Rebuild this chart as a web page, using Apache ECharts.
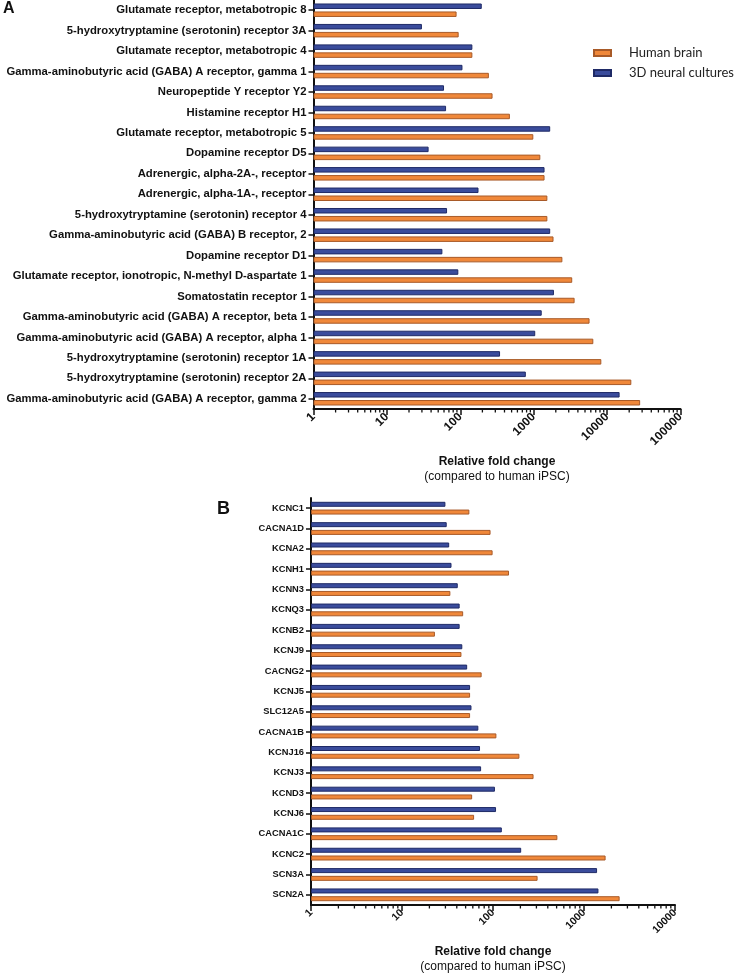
<!DOCTYPE html>
<html><head><meta charset="utf-8">
<script src="https://cdn.jsdelivr.net/npm/echarts@6/dist/echarts.min.js"></script>
<style>html,body{margin:0;padding:0;background:#fff}#c{width:735px;height:973px}</style>
</head><body><div id="c"></div>
<script>
// ---------- data (top-to-bottom order) ----------
const categoriesA = [
  'Glutamate receptor, metabotropic 8',
  '5-hydroxytryptamine (serotonin) receptor 3A',
  'Glutamate receptor, metabotropic 4',
  'Gamma-aminobutyric acid (GABA) A receptor, gamma 1',
  'Neuropeptide Y receptor Y2',
  'Histamine receptor H1',
  'Glutamate receptor, metabotropic 5',
  'Dopamine receptor D5',
  'Adrenergic, alpha-2A-, receptor',
  'Adrenergic, alpha-1A-, receptor',
  '5-hydroxytryptamine (serotonin) receptor 4',
  'Gamma-aminobutyric acid (GABA) B receptor, 2',
  'Dopamine receptor D1',
  'Glutamate receptor, ionotropic, N-methyl D-aspartate 1',
  'Somatostatin receptor 1',
  'Gamma-aminobutyric acid (GABA) A receptor, beta 1',
  'Gamma-aminobutyric acid (GABA) A receptor, alpha 1',
  '5-hydroxytryptamine (serotonin) receptor 1A',
  '5-hydroxytryptamine (serotonin) receptor 2A',
  'Gamma-aminobutyric acid (GABA) A receptor, gamma 2'
];
const humanBrainA     = [89, 95, 146, 245, 275, 474, 988, 1231, 1405, 1535, 1535, 1862, 2459, 3349, 3607, 5766, 6490, 8340, 21380, 28200];
const neuralCulturesA = [196, 30, 146, 107, 60, 64, 1678, 37, 1405, 177, 66, 1678, 57, 94, 1888, 1286, 1049, 348, 781, 14800];

const categoriesB = ['KCNC1','CACNA1D','KCNA2','KCNH1','KCNN3','KCNQ3','KCNB2','KCNJ9','CACNG2','KCNJ5',
  'SLC12A5','CACNA1B','KCNJ16','KCNJ3','KCND3','KCNJ6','CACNA1C','KCNC2','SCN3A','SCN2A'];
const humanBrainB     = [55, 94, 99, 150, 34, 47, 23, 45, 75, 56, 56, 109, 195, 279, 59, 62, 510, 1727, 309, 2464];
const neuralCulturesB = [30, 31, 33, 35, 41, 43, 43, 46, 52, 56, 58, 69, 72, 74, 105, 108, 125, 204, 1392, 1441];

const tickLabelsA = ['1', '10', '100', '1000', '10000', '100000'];
const tickLabelsB = ['1', '10', '100', '1000', '10000'];
const minorMultipliers = [2, 3, 4, 5, 6, 7, 8, 9];
const seriesNames = ['Human brain', '3D neural cultures'];

// ---------- styling ----------
const ORANGE = '#F0883A', ORANGE_B = '#A85A28';
const BLUE = '#3A4C9C', BLUE_B = '#1F2A66';
const FONT = '"Liberation Sans", Arial, sans-serif';

function minorTicks(decades) {
  const out = [];
  for (let d = 0; d < decades; d++) for (const m of minorMultipliers) out.push(m * Math.pow(10, d));
  return out;
}

function makeXAxis(gridIndex, labels, labelSize, nameGap) {
  return {
    type: 'log', logBase: 10, gridIndex,
    min: Number(labels[0]), max: Number(labels[labels.length - 1]),
    axisLine: { show: true, lineStyle: { color: '#111', width: 2 } },
    axisTick: { show: true, length: 6, lineStyle: { color: '#111', width: 1.5 } },
    splitLine: { show: false },
    axisLabel: {
      rotate: 45, margin: 6, color: '#111', fontFamily: FONT, fontWeight: 'bold', fontSize: labelSize,
      formatter: v => { const s = String(Math.round(v)); return labels.indexOf(s) >= 0 ? s : ''; }
    },
    name: '{t|Relative fold change}\n{s|(compared to human iPSC)}',
    nameLocation: 'middle', nameGap,
    nameTextStyle: {
      rich: {
        t: { fontFamily: FONT, fontWeight: 'bold', fontSize: 12, color: '#111', lineHeight: 15, align: 'center' },
        s: { fontFamily: FONT, fontSize: 12, color: '#111', lineHeight: 15, align: 'center' }
      }
    }
  };
}

function makeYAxis(gridIndex, cats, fontSize) {
  return {
    type: 'category', gridIndex, data: cats, inverse: true,
    axisLine: { show: true, lineStyle: { color: '#111', width: 2 } },
    axisTick: { show: true, alignWithLabel: true, length: 5, lineStyle: { color: '#111', width: 1.5 } },
    axisLabel: { margin: 7, color: '#111', fontFamily: FONT, fontWeight: 'bold', fontSize, interval: 0 },
    splitLine: { show: false }
  };
}

function barSeries(name, data, idx, color, border, width, gap) {
  return {
    name, type: 'bar', xAxisIndex: idx, yAxisIndex: idx, data,
    barWidth: width, barGap: gap,
    itemStyle: { color, borderColor: border, borderWidth: 1 }
  };
}

function minorTickSeries(idx, values) {
  return {
    type: 'custom', xAxisIndex: idx, yAxisIndex: idx, silent: true, z: 5, clip: false,
    data: values.map(v => [v, 0]),
    encode: { x: 0, y: 1 },
    renderItem: (params, api) => {
      const p = api.coord([api.value(0), 0]);
      const cs = params.coordSys;
      const y0 = cs.y + cs.height;
      return { type: 'line', shape: { x1: p[0], y1: y0, x2: p[0], y2: y0 + 3.5 },
               style: { stroke: '#111', lineWidth: 1.3 } };
    }
  };
}

const chart = echarts.init(document.getElementById('c'), null, { renderer: 'canvas' });
chart.setOption({
  animation: false,
  backgroundColor: '#fff',
  grid: [
    { left: 313.5, right: 54.5, top: 0, bottom: 564, outerBoundsMode: 'none', containLabel: false },
    { left: 311, right: 60, top: 498, bottom: 68, outerBoundsMode: 'none', containLabel: false }
  ],
  xAxis: [ makeXAxis(0, tickLabelsA, 12, 45), makeXAxis(1, tickLabelsB, 10.5, 39) ],
  yAxis: [ makeYAxis(0, categoriesA, 11.3), makeYAxis(1, categoriesB, 9.3) ],
  legend: {
    data: seriesNames, orient: 'vertical', left: 593, top: 46, padding: 0,
    itemWidth: 17, itemHeight: 6, itemGap: 6, icon: 'rect',
    textStyle: { fontFamily: 'Lato, "Open Sans", sans-serif', fontSize: 13, color: '#222', lineHeight: 14, padding: [0, 0, 0, 13] }
  },
  graphic: [
    { type: 'text', left: 3, top: 1, style: { text: 'A', fontFamily: FONT, fontWeight: 'bold', fontSize: 16, fill: '#111' } },
    { type: 'text', left: 217, top: 500, style: { text: 'B', fontFamily: FONT, fontWeight: 'bold', fontSize: 18, fill: '#111' } }
  ],
  series: [
    barSeries(seriesNames[1], neuralCulturesA, 0, BLUE, BLUE_B, 5.5, '45%'),
    barSeries(seriesNames[0], humanBrainA, 0, ORANGE, ORANGE_B, 5.5, '45%'),
    barSeries(seriesNames[1], neuralCulturesB, 1, BLUE, BLUE_B, 5, '55%'),
    barSeries(seriesNames[0], humanBrainB, 1, ORANGE, ORANGE_B, 5, '55%'),
    minorTickSeries(0, minorTicks(5)),
    minorTickSeries(1, minorTicks(4))
  ]
});
</script>
</body></html>
